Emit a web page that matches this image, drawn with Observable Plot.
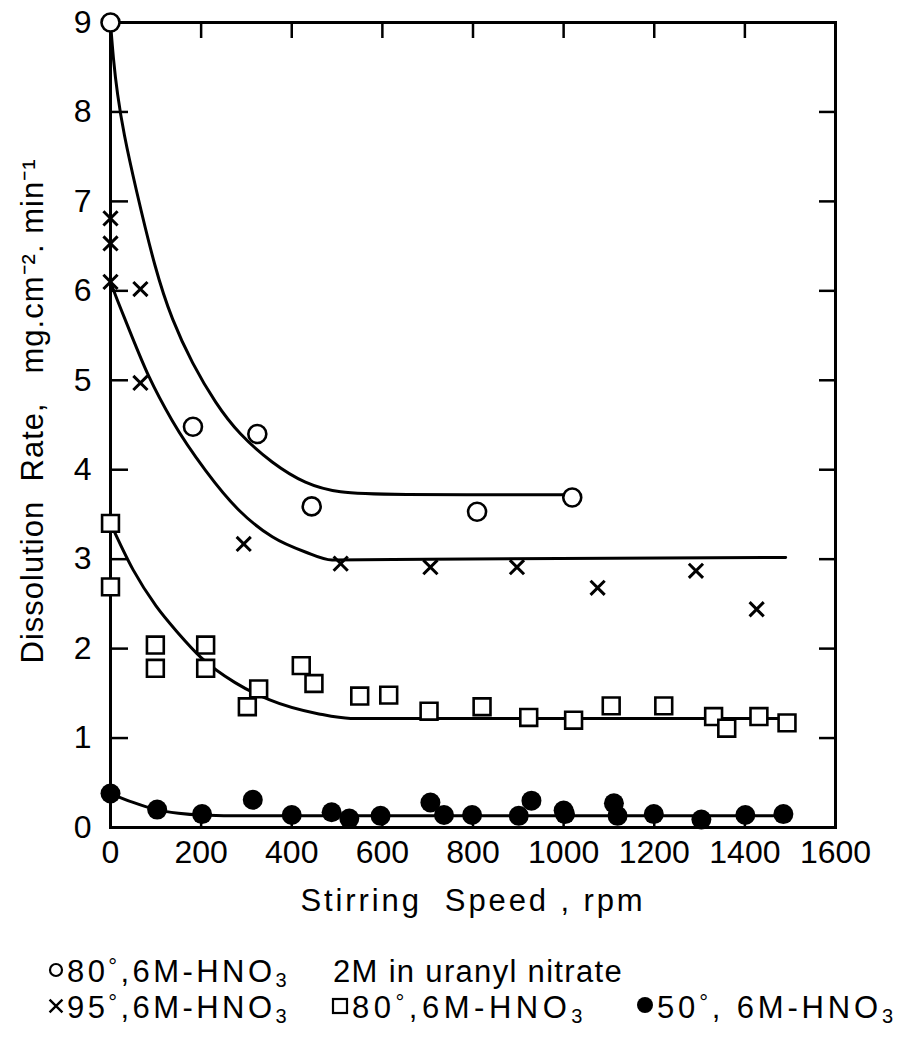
<!DOCTYPE html>
<html>
<head>
<meta charset="utf-8">
<script src="https://cdn.jsdelivr.net/npm/d3@7"></script>
<script src="https://cdn.jsdelivr.net/npm/@observablehq/plot@0.6"></script>
<style>
  body { margin: 0; background: #fff; }
  #chart svg, #legend svg { display: block; }
</style>
</head>
<body>
<div id="chart"></div>
<div id="legend"></div>
<script>
const FONT = "'Liberation Sans', Arial, sans-serif";

// ---- tick labels ----
const xTicks = [0, 200, 400, 600, 800, 1000, 1200, 1400, 1600];
const yTicks = [0, 1, 2, 3, 4, 5, 6, 7, 8, 9];
const xInnerTicks = [200, 400, 600, 800, 1000, 1200, 1400];
const yInnerTicks = [1, 2, 3, 4, 5, 6, 7, 8];
const xTitle = "Stirring  Speed , rpm";
const yTitle = "Dissolution  Rate,   mg.cm\u207B\u00B2. min\u207B\u00B9";

// ---- series: 80°, 6M-HNO3, 2M in uranyl nitrate (open circles) ----
const uranylX = [0, 182, 324, 444, 809, 1019];
const uranylY = [9.0, 4.48, 4.40, 3.59, 3.53, 3.69];
const uranylFitX = [0, 6, 15, 29, 55, 99, 136, 180, 232, 283, 357, 430, 504, 600, 1019];
const uranylFitY = [9.0, 8.6, 8.2, 7.76, 7.16, 6.23, 5.67, 5.19, 4.74, 4.40, 4.07, 3.84, 3.74, 3.72, 3.72];

// ---- series: 95°, 6M-HNO3 (crosses) ----
const hot95X = [0, 0, 0, 66, 66, 294, 508, 706, 897, 1075, 1292, 1426];
const hot95Y = [6.81, 6.53, 6.10, 6.02, 4.97, 3.17, 2.95, 2.91, 2.91, 2.68, 2.87, 2.44];
const hot95FitX = [0, 11, 33, 85, 136, 210, 283, 357, 430, 489, 700, 1490];
const hot95FitY = [6.10, 5.95, 5.67, 5.04, 4.55, 3.99, 3.55, 3.25, 3.08, 2.99, 3.0, 3.02];

// ---- series: 80°, 6M-HNO3 (open squares) ----
const sq80X = [0, 0, 99, 99, 210, 210, 302, 327, 421, 449, 550, 614, 703, 820, 923, 1022, 1105, 1221, 1331, 1360, 1431, 1493];
const sq80Y = [3.40, 2.69, 2.04, 1.78, 2.04, 1.78, 1.35, 1.55, 1.81, 1.61, 1.47, 1.48, 1.30, 1.35, 1.23, 1.20, 1.36, 1.36, 1.24, 1.11, 1.24, 1.17];
const sq80FitX = [0, 50, 100, 150, 200, 275, 350, 460, 530, 1500];
const sq80FitY = [3.40, 2.88, 2.48, 2.17, 1.90, 1.62, 1.43, 1.27, 1.22, 1.22];

// ---- series: 50°, 6M-HNO3 (filled circles) ----
const c50X = [0, 103, 202, 314, 400, 488, 527, 596, 706, 736, 798, 901, 929, 1000, 1003, 1111, 1119, 1199, 1304, 1401, 1485];
const c50Y = [0.38, 0.20, 0.15, 0.31, 0.14, 0.17, 0.10, 0.13, 0.28, 0.14, 0.14, 0.13, 0.30, 0.19, 0.15, 0.27, 0.13, 0.15, 0.09, 0.14, 0.15];
const c50FitX = [0, 50, 100, 150, 200, 300, 1490];
const c50FitY = [0.38, 0.28, 0.20, 0.16, 0.14, 0.13, 0.13];

const zip = (xs, ys) => xs.map((x, i) => ({x, y: ys[i]}));
const uranyl = zip(uranylX, uranylY), uranylFit = zip(uranylFitX, uranylFitY);
const hot95 = zip(hot95X, hot95Y), hot95Fit = zip(hot95FitX, hot95FitY);
const sq80 = zip(sq80X, sq80Y), sq80Fit = zip(sq80FitX, sq80FitY);
const c50 = zip(c50X, c50Y), c50Fit = zip(c50FitX, c50FitY);

const blank = () => "";
const lineOpts = {x: "x", y: "y", stroke: "black", strokeWidth: 3, curve: "monotone-x"};

const chart = Plot.plot({
  width: 900,
  height: 935,
  marginLeft: 110,
  marginRight: 65,
  marginTop: 22,
  marginBottom: 108,
  x: {domain: [0, 1600]},
  y: {domain: [0, 9]},
  style: {fontFamily: FONT, background: "white", color: "black", overflow: "visible"},
  marks: [
    Plot.axisX({anchor: "bottom", ticks: xTicks, tickSize: 0, tickPadding: 13, fontSize: 32, tickFormat: d => String(d), label: null}),
    Plot.axisY({anchor: "left", ticks: yTicks, tickSize: 0, tickPadding: 19, fontSize: 32, tickFormat: d => String(d), label: null}),
    Plot.axisX({anchor: "bottom", ticks: xInnerTicks, tickSize: -12, strokeWidth: 2.5, tickFormat: blank, label: null}),
    Plot.axisX({anchor: "top", ticks: xInnerTicks, tickSize: -15, strokeWidth: 2.5, tickFormat: blank, label: null}),
    Plot.axisY({anchor: "left", ticks: yInnerTicks, tickSize: -18, strokeWidth: 2.5, tickFormat: blank, label: null}),
    Plot.axisY({anchor: "right", ticks: yInnerTicks, tickSize: -17, strokeWidth: 2.5, tickFormat: blank, label: null}),
    Plot.frame({stroke: "black", strokeWidth: 3}),
    Plot.line(uranylFit, {...lineOpts, curve: "basis"}),
    Plot.line(hot95Fit, lineOpts),
    Plot.line(sq80Fit, lineOpts),
    Plot.line(c50Fit, lineOpts),
    Plot.dot(uranyl, {x: "x", y: "y", r: 9, symbol: "circle", fill: "white", stroke: "black", strokeWidth: 2.6}),
    Plot.dot(hot95, {x: "x", y: "y", r: 6.5, symbol: "times", stroke: "black", strokeWidth: 3}),
    Plot.dot(sq80, {x: "x", y: "y", r: 9.5, symbol: "square", fill: "white", stroke: "black", strokeWidth: 2.6}),
    Plot.dot(c50, {x: "x", y: "y", r: 10, symbol: "circle", fill: "black", stroke: "none"}),
    Plot.text([xTitle], {frameAnchor: "bottom", textAnchor: "middle", dy: 83, fontSize: 31, fill: "black", text: d => d}),
    Plot.text([yTitle], {frameAnchor: "left", textAnchor: "middle", dx: -77, dy: -14, rotate: -90, fontSize: 31, fill: "black", text: d => d})
  ]
});
document.getElementById("chart").appendChild(chart);

// stretch a text's letter spacing so it spans the target width
function fitWidth(node, target) {
  node.style.letterSpacing = "0px";
  const w = node.getComputedTextLength();
  const n = node.textContent.length;
  node.style.letterSpacing = ((target - w) / n) + "px";
}

const svgSel = d3.select(chart);
svgSel.selectAll("text").each(function() {
  if (this.textContent === xTitle) { this.style.whiteSpace = "pre"; fitWidth(this, 345); }
  if (this.textContent === yTitle) { this.style.whiteSpace = "pre"; fitWidth(this, 505); }
});

// ---- legend ----
const legendRows = [
  [
    {icon: "circle", cx: 56, cy: 35},
    {parts: ["80", "\u00B0", ",6M-HNO", "3"], x: 67, y: 47, len: 223},
    {text: "2M in uranyl nitrate", x: 333, y: 47, len: 290}
  ],
  [
    {icon: "times", cx: 56, cy: 71},
    {parts: ["95", "\u00B0", ",6M-HNO", "3"], x: 67, y: 83, len: 223},
    {icon: "square", cx: 340, cy: 71},
    {parts: ["80", "\u00B0", ",6M-HNO", "3"], x: 352, y: 83, len: 235},
    {icon: "dot", cx: 645, cy: 70},
    {parts: ["50", "\u00B0", ", 6M-HNO", "3"], x: 657, y: 83, len: 240}
  ]
];

const lg = d3.select("#legend").append("svg")
  .attr("width", 900).attr("height", 113)
  .style("font-family", FONT).style("background", "white");

for (const row of legendRows) {
  for (const item of row) {
    if (item.icon === "circle") {
      lg.append("circle").attr("cx", item.cx).attr("cy", item.cy).attr("r", 6)
        .attr("fill", "none").attr("stroke", "black").attr("stroke-width", 2.2);
    } else if (item.icon === "dot") {
      lg.append("circle").attr("cx", item.cx).attr("cy", item.cy).attr("r", 8).attr("fill", "black");
    } else if (item.icon === "square") {
      lg.append("rect").attr("x", item.cx - 7).attr("y", item.cy - 7).attr("width", 14).attr("height", 14)
        .attr("fill", "none").attr("stroke", "black").attr("stroke-width", 2.2);
    } else if (item.icon === "times") {
      lg.append("path")
        .attr("d", d3.symbol(d3.symbolTimes, 110)())
        .attr("transform", `translate(${item.cx},${item.cy})`)
        .attr("stroke", "black").attr("stroke-width", 2.4).attr("fill", "none");
    } else if (item.parts) {
      const t = lg.append("text").attr("x", item.x).attr("y", item.y)
        .attr("font-size", 31).attr("fill", "black").style("white-space", "pre");
      t.append("tspan").text(item.parts[0]);
      t.append("tspan").text(item.parts[1]).attr("font-size", 22).attr("dy", -8);
      t.append("tspan").text(item.parts[2]).attr("font-size", 31).attr("dy", 8);
      t.append("tspan").text(item.parts[3]).attr("font-size", 20).attr("dy", 5);
      fitWidth(t.node(), item.len);
    } else {
      const t = lg.append("text").attr("x", item.x).attr("y", item.y)
        .attr("font-size", 31).attr("fill", "black").style("white-space", "pre")
        .text(item.text);
      fitWidth(t.node(), item.len);
    }
  }
}
</script>
</body>
</html>
